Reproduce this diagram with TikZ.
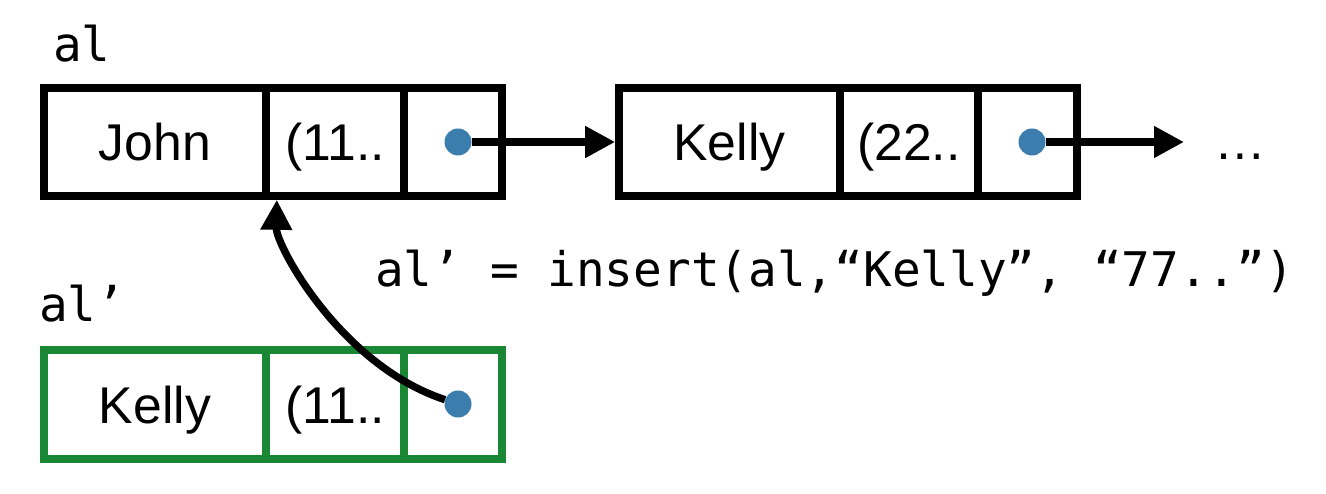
\documentclass[tikz,border=0pt]{standalone}
\usepackage{fontspec}
\setmainfont{Liberation Sans}
\setmonofont{DejaVu Sans Mono}
\usetikzlibrary{arrows.meta,positioning}
\definecolor{llblue}{RGB}{59,125,173}
\definecolor{llgreen}{RGB}{26,135,52}
\newcommand{\cellfont}{\fontsize{51.7}{60}\selectfont}
\newcommand{\codefont}{\fontsize{47.7}{56}\ttfamily}
\tikzstyle{cellbox} = [rectangle, draw=black, line width=7.6pt, minimum height=108pt, inner sep=0pt, text height=37pt, text depth=0pt, text centered, font=\cellfont]
\tikzstyle{newbox} = [cellbox, draw=llgreen]
\tikzstyle{ptrdot} = [circle, fill=llblue, minimum size=27pt, inner sep=0pt]
\tikzstyle{arrow} = [line width=7.4pt, ->, >={Triangle[length=30pt,width=30pt]}]
\tikzstyle{code} = [inner sep=0pt, anchor=base west, font=\codefont]

\begin{document}
\begin{tikzpicture}[x=1pt, y=-1pt]
\useasboundingbox (0,0) rectangle (1326,494);
% List al
\node[code] (allabel) at (53,62) {al};
\node[cellbox, minimum width=222pt] (john) at (155,142) {John};
\node[cellbox, minimum width=138pt] (phone1) at (335,142) {(11..};
\node[cellbox, minimum width=98pt] (ptr1) at (453,142) {};

\node[cellbox, minimum width=221pt] (kelly) at (729.5,142) {Kelly};
\node[cellbox, minimum width=138pt] (phone2) at (909,142) {(22..};
\node[cellbox, minimum width=99pt] (ptr2) at (1027.5,142) {};
\node[font=\cellfont, inner sep=0pt, anchor=base] (more) at (1240,160) {…};
\coordinate (tail) at (1184,142);

\node[ptrdot] (dot1) at (458,142) {};
\node[ptrdot] (dot2) at (1032,142) {};
\draw[arrow] (dot1) -- (kelly);
\draw[arrow] (dot2) -- (tail);

% Insert call
\node[code] (call) at (375,287) {al’ = insert(al,“Kelly”, “77..”)};

% New list al'
\node[code] (newlabel) at (39,322) {al’};
\node[newbox, minimum width=222pt, minimum height=109pt] (newkelly) at (155,404.5) {Kelly};
\node[newbox, minimum width=138pt, minimum height=109pt] (newphone) at (335,404.5) {(11..};
\node[newbox, minimum width=98pt, minimum height=109pt] (newptr) at (453,404.5) {};

\node[ptrdot] (dot3) at (458,404) {};
\draw[arrow] (dot3) .. controls (340,365) and (276,245) .. ([xshift=7pt]john.south east);
\end{tikzpicture}
\end{document}
